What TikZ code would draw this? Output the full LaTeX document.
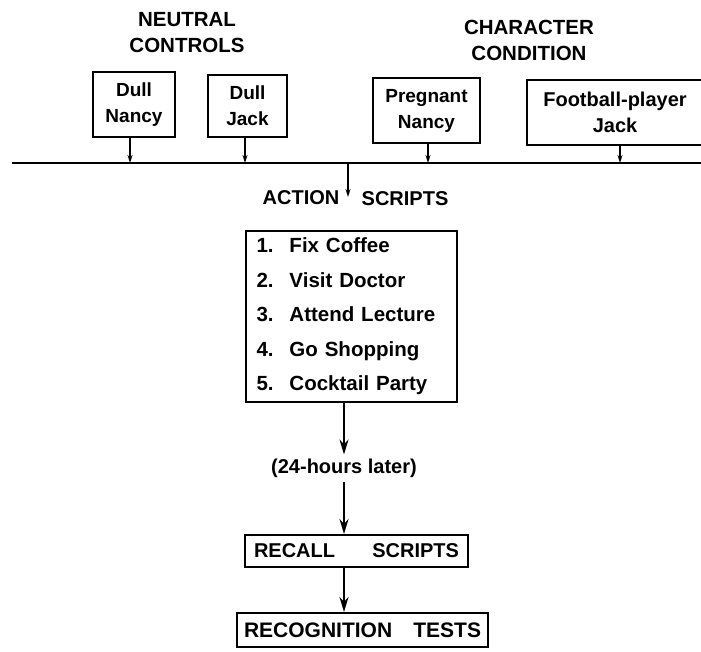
\documentclass[tikz,border=0pt]{standalone}
\usepackage{fontspec}
\setmainfont{Liberation Sans}
\usetikzlibrary{arrows.meta,positioning}
\begin{document}
\begin{tikzpicture}[x=1pt,y=-1pt,
  every node/.style={font=\bfseries\fontsize{20}{24}\selectfont},
  cond/.style={draw,line width=2pt,align=center,inner sep=0pt,font=\bfseries\fontsize{19}{26}\selectfont},
  head/.style={align=center,font=\bfseries\fontsize{20.5}{26}\selectfont},
  flat/.style={draw,line width=2pt,inner xsep=9pt,inner ysep=0pt,align=left,font=\bfseries\fontsize{20}{24}\selectfont},
  arr/.style={line width=2pt,-{Stealth[length=15pt,width=9pt]}},
  sarr/.style={line width=1.6pt,-{Stealth[length=8pt,width=5pt]}},
  bar/.style={line width=2.2pt}]
\useasboundingbox (0,0) rectangle (701,651);
% headings
\node[head] (neutral) at (187,33) {NEUTRAL\\CONTROLS};
\node[head] (charc) at (529,40) {CHARACTER\\CONDITION};
% condition boxes
\node[cond,minimum width=82,minimum height=65] (dn) at (134,104.5) {Dull\\Nancy};
\node[cond,minimum width=79,minimum height=62] (dj) at (247.5,106) {Dull\\Jack};
\node[cond,minimum width=107,minimum height=65] (pn) at (426.5,110.5) {Pregnant\\Nancy};
\node[cond,minimum width=176,minimum height=65,font=\bfseries\fontsize{20}{26}\selectfont] (fj) at (615,112.5) {Football-player\\Jack};
% bar
\coordinate (bl) at (12,163);
\coordinate (br) at (701,163);
\draw[bar] (bl) -- (br);
\coordinate (dnl) at (130,163);
\coordinate (djl) at (245,163);
\coordinate (pnl) at (428,163);
\coordinate (fjl) at (620,163);
\draw[sarr] (dn.south -| dnl) -- (dnl);
\draw[sarr] (dj.south -| djl) -- (djl);
\draw[sarr] (pn.south -| pnl) -- (pnl);
\draw[sarr] (fj.south -| fjl) -- (fjl);
% action scripts label
\coordinate (asl) at (348,163);
\node (action) at (301,198) {ACTION};
\node (scriptsl) at (405,199) {SCRIPTS};
\coordinate (ase) at (348,197);
\draw[sarr] (asl) -- (ase);
% script box
\node[draw,line width=2pt,minimum width=211,minimum height=171,text width=190,inner xsep=10pt,inner ysep=0pt,align=left,
  font=\bfseries\fontsize{20.5}{34.5}\selectfont] (scripts) at (351.5,316.5)
  {\makebox[33pt][l]{1.}Fix Coffee\\
   \makebox[33pt][l]{2.}Visit Doctor\\
   \makebox[33pt][l]{3.}Attend Lecture\\
   \makebox[33pt][l]{4.}Go Shopping\\
   \makebox[33pt][l]{5.}Cocktail Party};
% later
\node[inner sep=4pt] (later) at (344,468) {(24-hours later)};
\draw[arr] (scripts.south -| later) -- (later.north);
\node[flat,minimum width=223,minimum height=32,text width=205] (recall) at (356.5,551) {RECALL\hfill SCRIPTS};
\draw[arr] (later.south) -- (recall.north -| later);
\node[flat,minimum width=251,minimum height=34,text width=237,inner xsep=7pt,font=\bfseries\fontsize{21}{24}\selectfont] (recog) at (362.5,630) {RECOGNITION\hfill TESTS};
\draw[arr] (recall.south -| later) -- (recog.north -| later);
\end{tikzpicture}
\end{document}
